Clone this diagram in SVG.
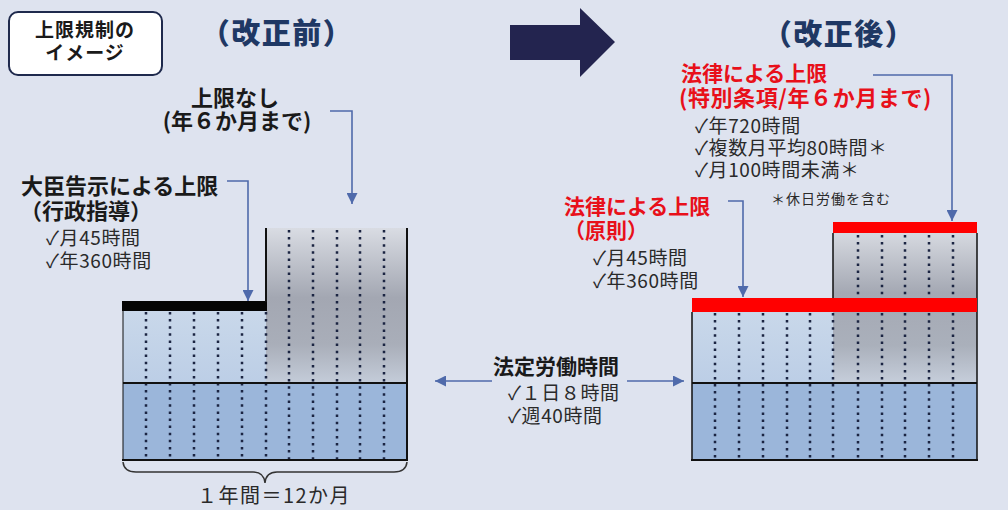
<svg xmlns="http://www.w3.org/2000/svg" width="1008" height="510" viewBox="0 0 1008 510">
<defs>
<style>
text{font-family:"Noto Sans CJK JP","DejaVu Sans",sans-serif}
.b{font-weight:700;fill:#1a1a1a;font-size:22px}
.r{font-weight:400;fill:#2a2a2a;font-size:19px;letter-spacing:0.6px}
.red{font-weight:700;fill:#e8101a;font-size:21px}
.title{font-weight:900;fill:#1f3864;font-size:29px;letter-spacing:1.5px}
.dot{stroke:#1b2442;stroke-width:2.5;stroke-dasharray:2.5 4.6;fill:none}
.edge{stroke:#111;fill:none}
.conn{stroke:#4f6aab;stroke-width:1.6;fill:none;marker-end:url(#ah)}
</style>
<marker id="ah" viewBox="0 0 10 10" refX="10" refY="5" markerUnits="userSpaceOnUse" markerWidth="11" markerHeight="11" orient="auto">
<path d="M0 0 L10 5 L0 10 z" fill="#4f6aab"/>
</marker>
<linearGradient id="gray" x1="0" y1="0" x2="0" y2="1">
<stop offset="0" stop-color="#d9dce3"/>
<stop offset="0.45" stop-color="#a3a7b2"/>
<stop offset="0.75" stop-color="#a9aeb9"/>
<stop offset="1" stop-color="#c4ccd9"/>
</linearGradient>
<linearGradient id="gray2" x1="0" y1="0" x2="0" y2="1">
<stop offset="0" stop-color="#d6d9e0"/>
<stop offset="0.4" stop-color="#a4a8b3"/>
<stop offset="0.75" stop-color="#aab0bb"/>
<stop offset="1" stop-color="#c6cedb"/>
</linearGradient>
<linearGradient id="lb" x1="0" y1="0" x2="0" y2="1">
<stop offset="0" stop-color="#c9d8ea"/>
<stop offset="1" stop-color="#bccee6"/>
</linearGradient>
</defs>
<rect x="0" y="0" width="1008" height="510" fill="#dee3ef"/>

<g id="label-box">
<rect x="9" y="12" width="153" height="63" rx="9" fill="#ffffff" stroke="#1f2a4d" stroke-width="2"/>
<text text-anchor="middle" class="b" style="font-size:19px;letter-spacing:1px"><tspan x="85" y="37">上限規制の</tspan><tspan x="85" y="60">イメージ</tspan></text>
</g>

<g id="title-before"><text x="277" y="44" text-anchor="middle" class="title">（改正前）</text></g>
<g id="title-after"><text x="839" y="45" text-anchor="middle" class="title">（改正後）</text></g>

<g id="big-arrow"><path d="M510 25 H580 V8 L615 42 L580 77 V60 H510 Z" fill="#23244f"/></g>

<g id="chart-before">
<rect x="123" y="311" width="143" height="72" fill="url(#lb)"/>
<rect x="266" y="228" width="141" height="155" fill="url(#gray)"/>
<rect x="123" y="383" width="284" height="77" fill="#9bb6da"/>
<path class="dot" d="M146 312V459M170 312V459M194 312V459M218 312V459M242 312V459M266 312V459M289 230V459M313 230V459M337 230V459M360 230V459M384 230V459"/>
<rect x="122" y="301" width="145" height="10" fill="#050505"/>
<path class="edge" stroke-width="2" d="M266 228V302M407 228V461M123 383H407M122 460H408"/>
<path class="edge" stroke-width="1" d="M123 311V460"/>
</g>

<g id="chart-after">
<rect x="692" y="312" width="141" height="71" fill="url(#lb)"/>
<rect x="833" y="233" width="144" height="150" fill="url(#gray2)"/>
<rect x="692" y="383" width="285" height="77" fill="#9bb6da"/>
<path class="dot" d="M715 313V459M739 313V459M763 313V459M787 313V459M810 313V459M833 313V459M858 235V459M882 235V459M905 235V459M929 235V459M953 235V459"/>
<path class="edge" stroke-width="1.5" d="M833 233V298M977 233V460M692 312V460"/>
<path class="edge" stroke-width="2" d="M692 383H977M691 460H978"/>
<rect x="692" y="298" width="285" height="14" fill="#ff0000"/>
<rect x="833" y="222" width="144" height="11" fill="#ff0000"/>
</g>

<g id="brace">
<path d="M123 462 Q124 472 136 472 L253 472 Q264 472 265 483 Q266 472 277 472 L394 472 Q406 472 407 462" fill="none" stroke="#333" stroke-width="1.5"/>
<text x="274" y="503" text-anchor="middle" class="r" style="font-size:20px;letter-spacing:1.5px">１年間＝12か月</text>
</g>

<g id="no-limit">
<text text-anchor="middle" class="b"><tspan x="235" y="106">上限なし</tspan><tspan x="237" y="129">(年６か月まで)</tspan></text>
</g>

<g id="minister-limit">
<text class="b"><tspan x="21" y="194">大臣告示による上限</tspan><tspan x="20" y="219">（行政指導）</tspan><tspan x="46" y="245" class="r">✓月45時間</tspan><tspan x="46" y="268" class="r">✓年360時間</tspan></text>
</g>

<g id="statutory-hours">
<text class="b" style="font-size:21px"><tspan x="493" y="374">法定労働時間</tspan><tspan x="508" y="400" class="r">✓１日８時間</tspan><tspan x="508" y="423" class="r">✓週40時間</tspan></text>
</g>

<g id="law-special">
<text class="red"><tspan x="681" y="81">法律による上限</tspan><tspan x="679" y="106" style="font-size:22px;letter-spacing:0.6px">(特別条項/年６か月まで)</tspan><tspan x="695" y="133" class="r">✓年720時間</tspan><tspan x="695" y="155" class="r">✓複数月平均80時間＊</tspan><tspan x="695" y="177" class="r">✓月100時間未満＊</tspan><tspan x="771" y="204" class="r" style="font-size:14px;letter-spacing:1px">＊休日労働を含む</tspan></text>
</g>

<g id="law-principle">
<text class="red"><tspan x="564" y="214">法律による上限</tspan><tspan x="564" y="238">（原則）</tspan><tspan x="593" y="265" class="r">✓月45時間</tspan><tspan x="593" y="288" class="r">✓年360時間</tspan></text>
</g>

<g id="connectors">
<path class="conn" d="M330 111H352V204"/>
<path class="conn" d="M227 181H248V301"/>
<path class="conn" d="M873 75H952V221"/>
<path class="conn" d="M728 201H743V297"/>
<path class="conn" d="M492 381H435"/>
<path class="conn" d="M627 381H684"/>
</g>
</svg>
